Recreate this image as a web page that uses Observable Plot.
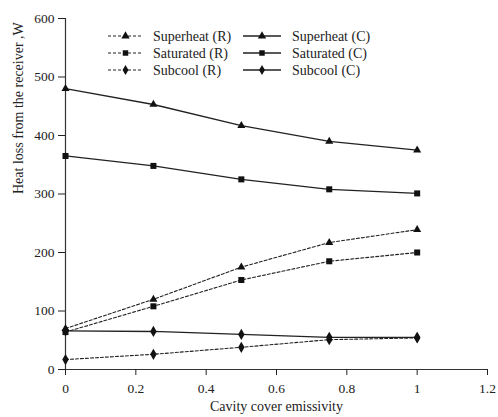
<!DOCTYPE html>
<html>
<head>
<meta charset="utf-8">
<script src="https://cdn.jsdelivr.net/npm/d3@7"></script>
<script src="https://cdn.jsdelivr.net/npm/@observablehq/plot@0.6"></script>
<style>
  html, body { margin: 0; padding: 0; background: #fff; }
  #wrap { position: relative; width: 498px; height: 417px; }
  #wrap svg { display: block; }
  #legend { position: absolute; left: 0; top: 0; }
</style>
</head>
<body>
<div id="wrap"></div>
<script>
const emissivity = [0, 0.25, 0.5, 0.75, 1];
const superheatR = [70, 120, 175, 217, 239];
const saturatedR = [64, 108, 153, 185, 200];
const subcoolR   = [17, 26, 38, 51, 54];
const superheatC = [480, 453, 417, 390, 375];
const saturatedC = [365, 348, 325, 308, 301];
const subcoolC   = [66, 65, 60, 55, 55];

const xTicks = [0, 0.2, 0.4, 0.6, 0.8, 1, 1.2];
const yTicks = [0, 100, 200, 300, 400, 500, 600];
const xLabel = "Cavity cover emissivity";
const yLabel = "Heat loss from the receiver ,W";

const seriesDefs = [
  {name: "Superheat (R)", kind: "Superheat", model: "R", values: superheatR},
  {name: "Superheat (C)", kind: "Superheat", model: "C", values: superheatC},
  {name: "Saturated (R)", kind: "Saturated", model: "R", values: saturatedR},
  {name: "Saturated (C)", kind: "Saturated", model: "C", values: saturatedC},
  {name: "Subcool (R)",   kind: "Subcool",   model: "R", values: subcoolR},
  {name: "Subcool (C)",   kind: "Subcool",   model: "C", values: subcoolC}
];
const rows = seriesDefs.flatMap(s => s.values.map((v, i) => ({series: s.name, kind: s.kind, model: s.model, x: emissivity[i], y: v})));

const radiusOf = {Superheat: 3, Saturated: 3.4, Subcool: 3.4};
const font = "'Liberation Serif', 'Times New Roman', serif";

const chart = Plot.plot({
  width: 498,
  height: 417,
  marginLeft: 65,
  marginRight: 11,
  marginTop: 18,
  marginBottom: 48,
  style: {fontFamily: font, fontSize: "13.5px", color: "#222", background: "#fff"},
  x: {domain: [0, 1.2], label: null},
  y: {domain: [0, 600], label: null},
  r: {type: "identity"},
  symbol: {domain: ["Superheat", "Saturated", "Subcool"], range: ["triangle", "square", "diamond"]},
  marks: [
    Plot.ruleX([0], {stroke: "#333", strokeWidth: 1.2}),
    Plot.ruleY([0], {stroke: "#333", strokeWidth: 1.2}),
    Plot.line(rows.filter(d => d.model === "R"), {x: "x", y: "y", z: "series", stroke: "#222", strokeWidth: 1.1, strokeDasharray: "3,2"}),
    Plot.line(rows.filter(d => d.model === "C"), {x: "x", y: "y", z: "series", stroke: "#222", strokeWidth: 1.3}),
    Plot.dot(rows, {x: "x", y: "y", symbol: "kind", r: d => radiusOf[d.kind], fill: "#111", stroke: "none"}),
    Plot.axisX({ticks: xTicks, tickFormat: d => String(d), tickSize: 6, tickPadding: 8, label: null, fontSize: 13.5}),
    Plot.axisY({ticks: yTicks, tickFormat: d => String(d), tickSize: 7, tickPadding: 4, label: null, fontSize: 13.5}),
    Plot.text([xLabel], {frameAnchor: "bottom", dy: 41, text: d => d, fontSize: 14, fill: "#222"}),
    Plot.text([yLabel], {frameAnchor: "left", dx: -47, rotate: -90, text: d => d, fontSize: 14, fill: "#222"})
  ]
});
document.getElementById("wrap").appendChild(chart);

// Legend overlay
const legend = d3.select("#wrap").append("svg")
  .attr("id", "legend").attr("width", 498).attr("height", 100)
  .style("font-family", font).style("font-size", "14px");
const symGen = {Superheat: d3.symbolTriangle, Saturated: d3.symbolSquare, Subcool: d3.symbolDiamond};
const rowY = [36, 53, 70];
const colDefs = [
  {model: "R", x1: 108, x2: 143, tx: 153, dash: "3,2"},
  {model: "C", x1: 243, x2: 281, tx: 292, dash: null}
];
const kinds = ["Superheat", "Saturated", "Subcool"];
kinds.forEach((k, i) => {
  colDefs.forEach(c => {
    const s = seriesDefs.find(d => d.kind === k && d.model === c.model);
    const g = legend.append("g");
    const ln = g.append("line").attr("x1", c.x1).attr("x2", c.x2).attr("y1", rowY[i]).attr("y2", rowY[i])
      .attr("stroke", "#222").attr("stroke-width", c.dash ? 1.1 : 1.3);
    if (c.dash) ln.attr("stroke-dasharray", c.dash);
    g.append("path").attr("d", d3.symbol(symGen[k], 30)())
      .attr("transform", `translate(${(c.x1 + c.x2) / 2},${rowY[i]})`).attr("fill", "#111");
    g.append("text").attr("x", c.tx).attr("y", rowY[i]).attr("dy", "0.35em").attr("fill", "#222").text(s.name);
  });
});
</script>
</body>
</html>
